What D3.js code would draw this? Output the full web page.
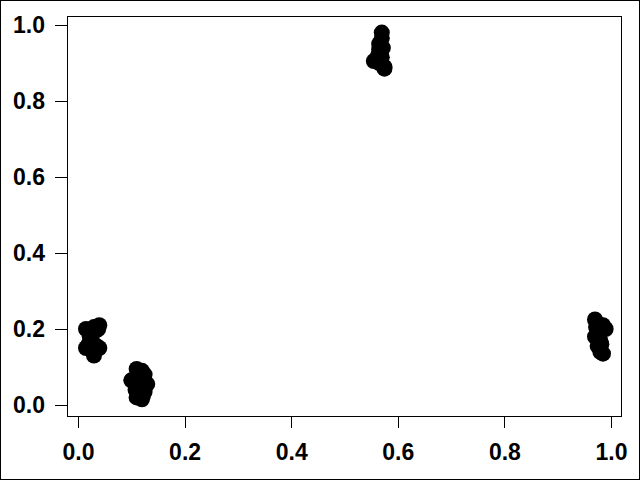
<!DOCTYPE html>
<html>
<head>
<meta charset="utf-8">
<script src="https://cdn.jsdelivr.net/npm/d3@7"></script>
<style>
  body { margin: 0; background: #fff; }
  svg text { font-family: "Liberation Sans", Arial, sans-serif; font-weight: bold; font-size: 23px; fill: #000; }
</style>
</head>
<body>
<svg id="chart" width="640" height="480"></svg>
<script>
    "use strict";

    // values, four clusters of points
    var xValues = [
        0.015, 0.030, 0.040, 0.025, 0.020, 0.015, 0.035, 0.040, 0.030, 0.025, 0.022, 0.033, 0.028, 0.038,
        0.110, 0.120, 0.125, 0.100, 0.115, 0.130, 0.120, 0.125, 0.110, 0.120, 0.112, 0.118, 0.108, 0.122,
        0.570, 0.570, 0.565, 0.565, 0.560, 0.555, 0.565, 0.570, 0.575, 0.575, 0.568, 0.563, 0.572,
        0.970, 0.975, 0.985, 0.990, 0.975, 0.970, 0.980, 0.975, 0.980, 0.985, 0.978, 0.982, 0.972
    ];
    var yValues = [
        0.200, 0.205, 0.210, 0.190, 0.160, 0.150, 0.155, 0.150, 0.130, 0.175, 0.180, 0.195, 0.140, 0.200,
        0.095, 0.090, 0.080, 0.065, 0.060, 0.055, 0.040, 0.035, 0.020, 0.015, 0.075, 0.050, 0.040, 0.025,
        0.980, 0.965, 0.950, 0.935, 0.910, 0.905, 0.900, 0.915, 0.885, 0.890, 0.925, 0.920, 0.940,
        0.225, 0.215, 0.210, 0.200, 0.190, 0.180, 0.170, 0.155, 0.140, 0.135, 0.200, 0.160, 0.205
    ];
    var xTicks = [0, 0.2, 0.4, 0.6, 0.8, 1.0];
    var yTicks = [0, 0.2, 0.4, 0.6, 0.8, 1.0];

    var svg = d3.select("#chart");

    // plot box edges in pixels
    var boxLeft = 67, boxRight = 621, boxTop = 16, boxBottom = 416;

    var x = d3.scaleLinear().domain([-0.0206, 1.0188]).range([boxLeft, boxRight]);
    var y = d3.scaleLinear().domain([-0.0289, 1.0237]).range([boxBottom, boxTop]);

    // outer frame of the figure
    svg.append("rect")
        .attr("x", 0.5).attr("y", 0.5)
        .attr("width", 639).attr("height", 479)
        .attr("fill", "none").attr("stroke", "#000");

    var xAxis = d3.axisBottom(x).tickValues(xTicks)
        .tickFormat(d3.format(".1f")).tickSize(12).tickPadding(14);
    var yAxis = d3.axisLeft(y).tickValues(yTicks)
        .tickFormat(d3.format(".1f")).tickSize(12).tickPadding(10);

    var gx = svg.append("g").attr("transform", "translate(0," + boxBottom + ")").call(xAxis);
    var gy = svg.append("g").attr("transform", "translate(" + boxLeft + ",0)").call(yAxis);

    [gx, gy].forEach(function (g) {
        g.attr("font-size", null).attr("font-family", null);
        g.select(".domain").remove();
        g.selectAll(".tick line").attr("stroke", "#000").attr("shape-rendering", "crispEdges");
    });
    gx.selectAll(".tick text").attr("dy", "0.8em");

    // points
    svg.append("g").selectAll("circle")
        .data(xValues.map(function (v, i) { return [v, yValues[i]]; }))
        .enter()
        .append("circle")
        .attr("cx", function (d) { return x(d[0]); })
        .attr("cy", function (d) { return y(d[1]); })
        .attr("r", 8)
        .attr("fill", "#000");

    // plot box
    svg.append("rect")
        .attr("x", boxLeft + 0.5).attr("y", boxTop + 0.5)
        .attr("width", boxRight - boxLeft).attr("height", boxBottom - boxTop)
        .attr("fill", "none").attr("stroke", "#000");
</script>
</body>
</html>
